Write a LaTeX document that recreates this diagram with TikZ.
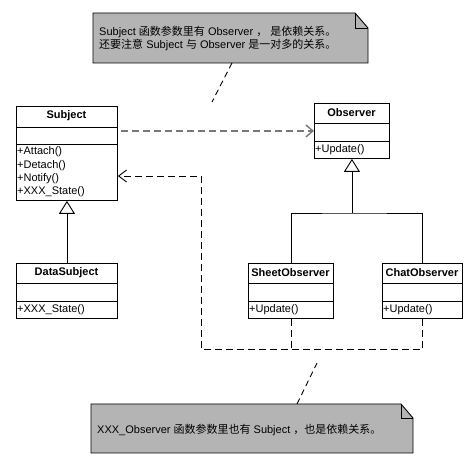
\documentclass[tikz,border=0pt]{standalone}
\usepackage{fontspec}
\setmainfont{Liberation Sans}
\newfontfamily\cjk{Noto Sans CJK SC}
\usetikzlibrary{arrows.meta}
\definecolor{notegray}{RGB}{180,180,180}
\definecolor{depgray}{RGB}{120,120,120}
\tikzset{
 box/.style={draw=black, line width=0.9pt, fill=white, inner sep=0pt, anchor=north west},
 ttl/.style={font=\fontsize{11}{13}\selectfont\bfseries, inner sep=0pt},
 op/.style={font=\fontsize{11}{13}\selectfont, inner sep=0pt, anchor=west},
 divider/.style={draw=black, line width=0.9pt},
 solidline/.style={draw=black, line width=0.9pt},
 gen/.style={draw=black, line width=0.9pt, -{Triangle[open, length=13pt, width=16pt, fill=white]}},
 dep/.style={draw=black, line width=0.9pt, dash pattern=on 7pt off 4pt},
 barb/.style={-{Straight Barb[length=8pt,width=12pt]}},
 depgr/.style={draw=depgray, line width=1.4pt, dash pattern=on 7pt off 4pt, -{Straight Barb[length=7pt,width=12pt]}},
 notelink/.style={draw=black, line width=0.9pt, dash pattern=on 6pt off 4pt},
 noteshape/.style={draw=black, line width=0.9pt, fill=notegray},
 notetext/.style={font=\fontsize{11}{13}\selectfont, inner sep=0pt, anchor=west},
 area/.style={inner sep=0pt, anchor=north west},
}
\begin{document}
\begin{tikzpicture}[x=1pt,y=-1pt]
\useasboundingbox (0,0) rectangle (472,465);

% ---------- top note ----------
\node[area, minimum width=275pt, minimum height=50pt] (note1) at (93,13) {};
\draw[noteshape] (93,13) -- (355,13) -- (368,28) -- (368,63) -- (93,63) -- cycle;
\draw[solidline] (355,13) -- (355,28) -- (368,28);
\node[notetext] (n1a) at (99,32) {Subject {\cjk 函数参数里有} Observer {\cjk ，} {\cjk 是依赖关系。}};
\node[notetext] (n1b) at (99,45) {{\cjk 还要注意} Subject {\cjk 与} Observer {\cjk 是一对多的关系。}};
\coordinate (n1s) at (232,63);
\coordinate (n1e) at (212,102);
\draw[notelink] (n1s) -- (n1e);

% ---------- bottom note ----------
\node[area, minimum width=322pt, minimum height=49pt] (note2) at (91,404) {};
\draw[noteshape] (91,404) -- (401,404) -- (413,418) -- (413,453) -- (91,453) -- cycle;
\draw[solidline] (401,404) -- (401,418) -- (413,418);
\node[notetext] (n2a) at (97,430) {XXX\_Observer {\cjk 函数参数里也有} Subject {\cjk ，也是依赖关系。}};
\coordinate (n2s) at (297,404);
\coordinate (n2e) at (317,363);
\draw[notelink] (n2s) -- (n2e);

% ---------- Subject ----------
\node[box, minimum width=101pt, minimum height=94pt] (subj) at (16,106) {};
\draw[divider] (16,127) -- (117,127);
\draw[divider] (16,144) -- (117,144);
\node[ttl] (subjt) at (66.5,116) {Subject};
\node[op] (s1) at (17,152) {+Attach()};
\node[op] (s2) at (17,165.5) {+Detach()};
\node[op] (s3) at (17,178.5) {+Notify()};
\node[op] (s4) at (17,191.5) {+XXX\_State()};

% ---------- Observer ----------
\node[box, minimum width=75pt, minimum height=55pt] (obs) at (314,103) {};
\draw[divider] (314,123) -- (389,123);
\draw[divider] (314,141) -- (389,141);
\node[ttl] (obst) at (351.5,113) {Observer};
\node[op] (o1) at (315,149.5) {+Update()};

% ---------- DataSubject ----------
\node[box, minimum width=101pt, minimum height=55pt] (ds) at (16,263) {};
\draw[divider] (16,283) -- (117,283);
\draw[divider] (16,301) -- (117,301);
\node[ttl] (dst) at (66.5,273) {DataSubject};
\node[op] (d1) at (17,309.5) {+XXX\_State()};

% ---------- SheetObserver ----------
\node[box, minimum width=85pt, minimum height=55pt] (sheet) at (248,263) {};
\draw[divider] (248,283) -- (333,283);
\draw[divider] (248,301) -- (333,301);
\node[ttl] (sht) at (290.5,273) {SheetObserver};
\node[op] (sh1) at (249,309.5) {+Update()};

% ---------- ChatObserver ----------
\node[box, minimum width=80pt, minimum height=55pt] (chat) at (382,263) {};
\draw[divider] (382,283) -- (462,283);
\draw[divider] (382,301) -- (462,301);
\node[ttl] (cht) at (422,273) {ChatObserver};
\node[op] (ch1) at (383,309.5) {+Update()};

% ---------- generalizations ----------
\draw[gen] (ds.north) -- (subj.south);
\coordinate (jy) at (0,213);
\coordinate (jn) at (obs.south |- jy);
\draw[gen] (jn) -- (obs.south);
\draw[solidline] (sheet.north) |- (jn) -| (chat.north);

% ---------- dependencies ----------
\draw[depgr] ([xshift=3pt]subj.east |- obs.west) -- (obs.west);
\coordinate (by) at (0,349);
\coordinate (bend) at (201,349);
\coordinate (ay) at (0,176);
\draw[dep] (sheet.south) -- (sheet.south |- by);
\draw[dep, barb] (chat.south) |- (bend) |- (subj.east |- ay);
\end{tikzpicture}
\end{document}
